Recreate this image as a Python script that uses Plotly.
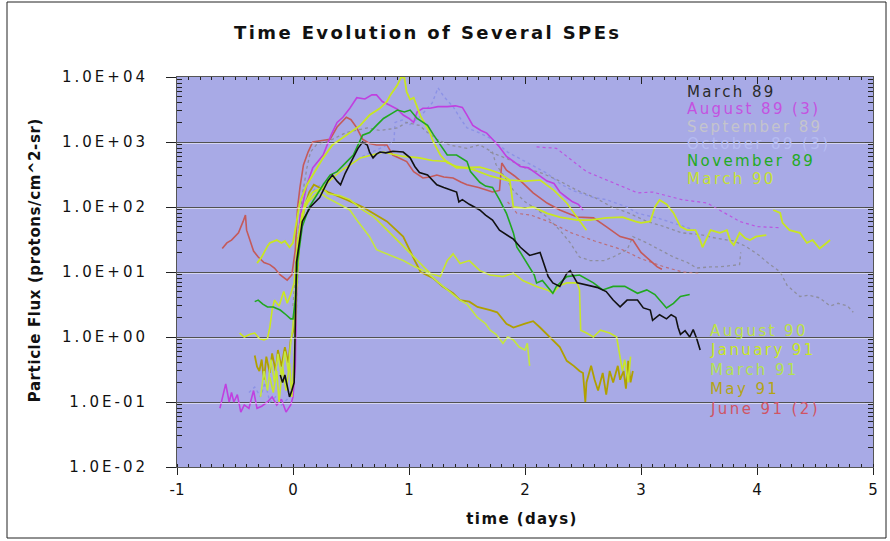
import plotly.graph_objects as go

# ---------------- data (time in days, flux in protons/cm^2-sr) ----------------
march89 = [(-0.11,0.26),(-0.09,0.2),(-0.07,0.26),(-0.05,0.17),(-0.03,0.12),(-0.01,0.15),(0.01,0.2),
           (0.03,14),(0.08,60),(0.15,100),(0.23,140),(0.3,250),(0.34,310),(0.38,250),(0.41,220),(0.45,330),
           (0.5,500),(0.56,800),(0.6,1000),(0.64,900),(0.66,700),(0.69,570),(0.72,650),(0.75,700),(0.8,680),
           (0.86,720),(0.95,700),(1.01,570),(1.05,420),(1.09,340),(1.16,310),(1.24,220),(1.3,200),(1.35,185),
           (1.41,170),(1.43,120),(1.46,130),(1.52,110),(1.61,90),(1.66,75),(1.72,63),(1.78,44),(1.84,38),
           (1.9,32),(1.96,24),(2.04,18),(2.13,20),(2.17,12),(2.2,8.5),(2.24,6.8),(2.3,6.0),(2.36,9.5),
           (2.39,10.5),(2.45,6.8),(2.53,6.3),(2.62,5.8),(2.7,5.0),(2.76,3.7),(2.82,2.9),(2.88,3.7),(2.97,3.7),
           (3.02,2.8),(3.08,2.6),(3.1,1.8),(3.16,2.2),(3.22,1.9),(3.26,2.2),(3.3,2.0),(3.32,1.4),(3.34,1.1),
           (3.38,1.25),(3.42,1.0),(3.45,1.3),(3.48,0.95),(3.51,0.63)]

august89 = [(-0.63,0.08),(-0.58,0.19),(-0.55,0.1),(-0.53,0.14),(-0.51,0.1),(-0.48,0.13),(-0.45,0.07),
            (-0.42,0.09),(-0.38,0.08),(-0.34,0.15),(-0.31,0.08),(-0.27,0.086),(-0.22,0.1),(-0.18,0.12),
            (-0.14,0.09),(-0.1,0.11),(-0.06,0.07),(-0.02,0.09),(0.0,0.12),(0.02,0.36),(0.03,3.7),(0.06,70),
            (0.12,220),(0.17,400),(0.26,630),(0.33,1300),(0.38,2000),(0.43,2400),(0.49,3300),(0.55,4800),
            (0.62,4600),(0.68,5300),(0.72,5300),(0.77,4200),(0.83,3700),(0.9,3200),(0.95,2600),(1.0,2300),
            (1.04,2000),(1.07,2900),(1.12,3300),(1.18,3300),(1.25,3500),(1.33,3500),(1.4,3600),(1.46,3400),
            (1.5,2600),(1.55,1800),(1.62,1500),(1.67,1370),(1.72,1100),(1.78,840),(1.84,600),(1.9,500),
            (1.96,420),(2.03,400),(2.1,330),(2.19,250),(2.25,230),(2.3,170),(2.36,140),(2.41,120),
            (2.46,110),(2.5,90)]
august89_late = [(2.1,840),(2.27,800),(2.53,350),(2.8,220),(2.97,165),(3.1,170),(3.35,130),(3.57,115),
                 (3.85,60),(4.0,50),(4.2,48)]

september89 = [(0.0,3),(0.04,30),(0.08,150),(0.12,400),(0.15,700),(0.2,900),(0.28,1000),(0.34,1100),
               (0.46,1400),(0.55,1500),(0.64,1650),(0.75,1500),(0.9,1650),(0.98,2000),(1.09,1800),
               (1.16,1400),(1.24,1100),(1.35,900),(1.5,800),(1.61,900),(1.72,700),(1.75,450),(1.82,300),
               (1.9,180),(2.0,120),(2.07,100),(2.19,70),(2.3,44),(2.39,28),(2.47,17),(2.56,15),(2.68,15),
               (2.76,17),(2.88,22),(2.93,35),(3.05,28),(3.16,22),(3.28,17),(3.4,14),(3.48,11.5),(3.6,12),
               (3.68,12),(3.85,13),(3.86,20)]
september89_late = [(1.7,700),(1.85,550),(2.0,400),(2.15,330),(2.3,250),(2.45,180),(2.6,140),(2.75,100),
                    (2.9,80),(3.05,60),(3.2,50),(3.35,40),(3.5,38),(3.65,33),(3.8,30),(3.9,25),(4.02,18),
                    (4.09,14),(4.2,10),(4.26,6.2),(4.37,4.2),(4.45,4.4),(4.54,4.0),(4.63,3.0),(4.7,3.3),
                    (4.78,3.0),(4.83,2.4)]

october89 = [(-0.38,0.14),(-0.33,0.17),(-0.28,0.12),(-0.24,0.2),(-0.2,0.1),(-0.15,0.12),(-0.1,0.09),
             (-0.05,0.11),(0.0,0.15),(0.03,3),(0.06,40),(0.1,120),(0.2,200),(0.3,250),(0.45,400),(0.6,600),
             (0.75,800),(0.87,1000),(0.88,2000),(0.95,2200),(1.0,1800),(1.1,2500),(1.2,4000),(1.25,6800),
             (1.3,5000),(1.38,3500),(1.45,2200),(1.5,1650),(1.6,1400),(1.72,1100),(1.85,700),(2.0,500),
             (2.1,400),(2.19,330),(2.3,230),(2.41,180),(2.59,140),(2.7,130),(2.88,100),(2.97,80),
             (3.14,68),(3.3,55),(3.45,45)]

november89 = [(-0.33,3.5),(-0.3,3.7),(-0.26,3.2),(-0.22,2.9),(-0.17,2.9),(-0.11,2.6),(-0.06,2.2),
              (-0.02,1.9),(0.0,1.9),(0.02,3.7),(0.04,15),(0.08,50),(0.14,100),(0.2,150),(0.26,220),
              (0.32,310),(0.38,350),(0.46,490),(0.52,630),(0.6,1270),(0.66,1400),(0.72,1800),(0.78,2300),
              (0.86,2800),(0.9,3100),(0.96,2900),(1.01,3100),(1.07,2300),(1.16,1800),(1.21,1300),
              (1.27,900),(1.33,630),(1.41,630),(1.5,500),(1.53,350),(1.61,240),(1.66,210),(1.72,200),
              (1.78,130),(1.84,80),(1.9,40),(1.93,24),(1.96,20),(2.04,12),(2.08,9),(2.1,6.8),(2.15,7.4),
              (2.24,4.7),(2.27,6.0),(2.36,8.5),(2.47,9.0),(2.59,6.8),(2.67,5.3),(2.76,6.0),(2.86,6.0),
              (2.97,4.7),(3.05,5.3),(3.12,4.5),(3.19,3.3),(3.22,2.8),(3.28,3.3),(3.34,4.2),(3.42,4.5)]

march90 = [(-0.31,13.7),(-0.27,17),(-0.22,25),(-0.2,28),(-0.14,31),(-0.1,28),(-0.07,30),(-0.03,24),
           (0.0,28),(0.03,60),(0.06,120),(0.12,220),(0.17,310),(0.26,570),(0.34,900),(0.46,1270),
           (0.58,1800),(0.66,2600),(0.75,3300),(0.81,4200),(0.84,5300),(0.9,7500),(0.93,9800),(0.96,9800),
           (0.98,5900),(1.01,4500),(1.04,4800),(1.1,2500),(1.18,1400),(1.21,1000),(1.27,630),(1.33,480),
           (1.41,420),(1.55,380),(1.7,300),(1.87,250),(1.9,100),(2.0,95),(2.07,100),(2.19,80),(2.3,70),
           (2.45,63),(2.56,63),(2.7,68),(2.84,70),(2.95,60),(3.0,57),(3.08,60),(3.12,100),(3.16,128),
           (3.22,110),(3.28,81),(3.34,50),(3.4,44),(3.47,44),(3.51,31),(3.53,24),(3.6,44),(3.68,40),
           (3.74,44),(3.77,30),(3.8,26),(3.85,40),(3.9,33),(3.94,31),(3.99,35),(4.08,37),(4.11,None),
           (4.14,90),(4.2,81),(4.22,57),(4.28,44),(4.37,40),(4.43,28),(4.48,31),(4.54,23),(4.6,28),(4.63,31)]

august90 = [(-0.2,0.24),(-0.17,0.14),(-0.14,0.3),(-0.12,0.1),(-0.09,0.35),(-0.06,0.15),(-0.03,0.4),
            (-0.01,0.12),(0.01,0.5),(0.03,5),(0.06,40),(0.1,100),(0.17,170),(0.25,200),(0.3,160),(0.4,150),
            (0.49,130),(0.6,90),(0.7,70),(0.81,45),(0.95,25),(1.09,14),(1.18,9.6),(1.27,8.5),(1.33,15),
            (1.38,19),(1.44,13.5),(1.52,15),(1.61,10.5),(1.7,9.0),(1.81,8.5),(1.9,9.6),(1.98,7.4),(2.1,6.0),
            (2.19,5.3),(2.24,4.7),(2.3,6.2),(2.36,6.8),(2.45,6.8),(2.47,5.3),(2.48,1.27),(2.53,1.15),
            (2.59,1.0),(2.65,1.27),(2.73,1.15),(2.79,1.0),(2.82,0.5),(2.84,0.3),(2.86,0.45),(2.89,0.2),
            (2.91,0.5)]

january91 = [(-0.46,1.15),(-0.42,1.0),(-0.37,1.1),(-0.33,1.15),(-0.29,0.95),(-0.25,0.9),(-0.22,0.95),
             (-0.2,1.4),(-0.18,2.6),(-0.16,3.7),(-0.12,3.0),(-0.08,5.0),(-0.05,3.3),(-0.02,4.5),(0.01,6.8),
             (0.04,30),(0.08,80),(0.13,120),(0.2,160),(0.28,220),(0.36,300),(0.43,380),(0.49,440),
             (0.58,570),(0.68,630),(0.78,700),(0.86,650),(0.95,600),(1.05,580),(1.09,570),(1.2,520),
             (1.33,500),(1.41,400),(1.5,400),(1.61,410),(1.7,370),(1.78,330),(1.87,260),(2.0,250),
             (2.13,260),(2.25,180),(2.36,115),(2.45,70),(2.53,44)]

march91 = [(-0.28,0.12),(-0.25,0.3),(-0.22,0.15),(-0.19,0.45),(-0.16,0.2),(-0.13,0.55),(-0.1,0.25),
           (-0.07,0.6),(-0.04,0.3),(-0.02,0.8),(0.0,1.5),(0.03,10),(0.06,50),(0.1,110),(0.15,160),
           (0.2,180),(0.29,140),(0.4,110),(0.49,90),(0.55,63),(0.66,35),(0.72,22),(0.81,19),(0.95,15),
           (1.05,12),(1.15,10),(1.25,7.0),(1.33,5.3),(1.44,3.7),(1.5,3.2),(1.59,2.0),(1.66,1.6),(1.7,1.27),
           (1.75,1.1),(1.81,0.8),(1.85,1.0),(1.9,0.9),(1.95,0.7),(2.0,0.63),(2.02,0.8),(2.04,0.36)]

may91 = [(-0.33,0.52),(-0.31,0.35),(-0.29,0.3),(-0.27,0.45),(-0.25,0.22),(-0.23,0.5),(-0.2,0.28),
         (-0.18,0.56),(-0.15,0.3),(-0.13,0.63),(-0.1,0.35),(-0.07,0.7),(-0.04,0.4),(-0.02,0.9),(0.0,1.2),
         (0.03,8),(0.06,40),(0.1,100),(0.14,170),(0.18,220),(0.3,170),(0.46,130),(0.6,100),(0.81,60),
         (0.95,35),(1.05,15),(1.1,10),(1.21,8.0),(1.29,6.0),(1.38,4.7),(1.44,3.7),(1.52,3.5),(1.59,2.9),
         (1.7,2.6),(1.76,2.4),(1.84,1.6),(1.9,1.4),(2.0,1.6),(2.07,1.75),(2.13,1.4),(2.19,1.1),(2.24,0.9),
         (2.3,0.7),(2.36,0.43),(2.42,0.36),(2.47,0.3),(2.5,0.28),(2.52,0.1),(2.53,0.2),(2.57,0.36),
         (2.6,0.22),(2.63,0.15),(2.67,0.28),(2.7,0.13),(2.73,0.3),(2.76,0.2),(2.8,0.36),(2.82,0.22),
         (2.85,0.3),(2.87,0.16),(2.89,0.43),(2.91,0.2),(2.93,0.3)]

june91 = [(-0.61,23),(-0.57,28),(-0.53,31),(-0.5,35),(-0.47,40),(-0.43,60),(-0.41,75),(-0.4,44),(-0.37,30),
          (-0.34,21),(-0.3,17),(-0.25,14),(-0.2,13),(-0.16,11.5),(-0.11,9),(-0.05,7.5),(-0.01,9),(0.02,22),
          (0.04,100),(0.06,200),(0.09,445),(0.13,700),(0.17,1000),(0.25,1050),(0.32,1100),(0.38,1700),
          (0.46,2400),(0.5,2200),(0.55,1650),(0.6,1100),(0.66,950),(0.72,900),(0.81,900),(0.86,630),
          (0.92,560),(0.98,500),(1.04,350),(1.12,280),(1.18,290),(1.24,310),(1.3,290),(1.38,280),
          (1.45,240),(1.5,220),(1.6,200),(1.72,170),(1.78,180),(1.8,475),(1.84,370),(1.91,300),(1.98,235),
          (2.07,165),(2.19,115),(2.3,90),(2.45,70),(2.59,68),(2.7,50),(2.82,35),(2.93,31),(3.0,20),
          (3.08,15),(3.14,12),(3.18,11)]
june91_late = [(1.85,120),(1.93,80),(2.05,75),(2.2,60),(2.4,40),(2.6,30),(2.84,22),(3.0,16),(3.2,12),
               (3.36,10),(3.5,9.5)]

x_ticks = [-1, 0, 1, 2, 3, 4, 5]
x_ticktext = ["-1", "0", "1", "2", "3", "4", "5"]
y_tickvals = [1e-2, 1e-1, 1e0, 1e1, 1e2, 1e3, 1e4]
y_ticktext = ["1.0E-02", "1.0E-01", "1.0E+00", "1.0E+01", "1.0E+02", "1.0E+03", "1.0E+04"]
y_minor = [k * 10.0 ** e for e in range(-2, 4) for k in range(2, 10)]

legend_top = [("March 89", "#2a2a2a"), ("August 89 (3)", "#C452E0"), ("September 89", "#C4C4CC"),
              ("October 89 (3)", "#B6BCF2"), ("November 89", "#22AA22"), ("March 90", "#C6E232")]
legend_bottom = [("August 90", "#BEE244"), ("January 91", "#C8E820"), ("March 91", "#B4E250"),
                 ("May 91", "#B4A414"), ("June 91 (2)", "#D05464")]

# ---------------- figure ----------------
L, R, T, B = 177, 873, 77, 467


def px(x):
    return (x - L) / (R - L)


def py(y):
    return (B - y) / (B - T)


fig = go.Figure()


def add(pairs, color, width=1.6, dash="solid", opacity=1.0):
    fig.add_trace(go.Scatter(
        x=[p[0] for p in pairs], y=[p[1] for p in pairs], mode="lines",
        line=dict(color=color, width=width, dash=dash), opacity=opacity,
        showlegend=False, hoverinfo="skip", connectgaps=False))


add(october89, "#8C92E6", 1.4, "dot")
add(september89, "#8E8E9E", 1.3, "dot")
add(september89_late, "#8E8E9E", 1.3, "dot")
add(june91_late, "#C06060", 1.2, "dot", 0.8)
add(june91, "#C45A5A", 1.6)
add(august89_late, "#C040E0", 1.2, "dot", 0.8)
add(august89, "#C040E0", 1.6)
add(may91, "#B0A000", 1.8)
add(march91, "#C4E640", 1.6)
add(august90, "#C8E62A", 1.6)
add(january91, "#CCE81E", 1.6)
add(march90, "#C8E622", 1.8)
add(november89, "#20A820", 1.6)
add(march89, "#111111", 1.6)

# overlay axes for inside ticks on the top and right edges
fig.add_trace(go.Scatter(x=[], y=[], xaxis="x2", yaxis="y2", showlegend=False, hoverinfo="skip"))

axis_font = dict(family="DejaVu Sans", size=15, color="#111")
fig.update_layout(
    width=890, height=541,
    margin=dict(l=L, r=890 - R, t=T, b=541 - B),
    paper_bgcolor="white", plot_bgcolor="#A8AAE6",
    font=dict(family="DejaVu Sans", size=15, color="#111"),
    showlegend=False,
    xaxis=dict(range=[-1, 5], tickvals=x_ticks, ticktext=x_ticktext, ticks="outside", ticklen=7,
               tickcolor="#222", showline=True, linecolor="#555", linewidth=1, mirror=True,
               showgrid=False, zeroline=False, tickfont=axis_font, ticklabelstandoff=2,
               minor=dict(ticks="inside", dtick=0.1, ticklen=3, tickcolor="#222")),
    yaxis=dict(type="log", range=[-2, 4], tickvals=y_tickvals, ticktext=y_ticktext,
               ticks="outside", ticklen=10, tickcolor="#222", showgrid=True, gridcolor="#2a2a2a",
               gridwidth=1, showline=True, linecolor="#555", linewidth=1, mirror=True,
               zeroline=False, tickfont=axis_font, ticklabelstandoff=15,
               minor=dict(ticks="inside", tickvals=y_minor, ticklen=5, tickcolor="#222", showgrid=False)),
    xaxis2=dict(overlaying="x", side="top", range=[-1, 5], tickvals=x_ticks, ticks="inside",
                ticklen=7, tickcolor="#222", showticklabels=False, showgrid=False, zeroline=False,
                showline=False, minor=dict(ticks="inside", dtick=0.1, ticklen=3, tickcolor="#222")),
    yaxis2=dict(overlaying="y", side="right", type="log", range=[-2, 4], tickvals=y_tickvals,
                ticks="inside", ticklen=8, tickcolor="#222", showticklabels=False, showgrid=False,
                zeroline=False, showline=False,
                minor=dict(ticks="inside", tickvals=y_minor, ticklen=5, tickcolor="#222")),
)

ann = []
ann.append(dict(text="<b>Time Evolution of Several SPEs</b>", x=px(427), y=py(33), xref="paper",
                yref="paper", showarrow=False, font=dict(size=18, color="#111"), xanchor="center",
                yanchor="middle"))
ann.append(dict(text="<b>time (days)</b>", x=px(522), y=py(519), xref="paper", yref="paper",
                showarrow=False, font=dict(size=15, color="#111"), xanchor="center", yanchor="middle"))
ann.append(dict(text="<b>Particle Flux (protons/cm^2-sr)</b>", x=px(35), y=py(260), xref="paper",
                yref="paper", showarrow=False, textangle=-90, font=dict(size=15, color="#111"),
                xanchor="center", yanchor="middle"))
for i, (name, col) in enumerate(legend_top):
    ann.append(dict(text=name, x=px(685), y=py(92 + 17.3 * i), xref="paper", yref="paper",
                    showarrow=False, xanchor="left", yanchor="middle", align="left",
                    font=dict(size=15, color=col, family="DejaVu Sans")))
for i, (name, col) in enumerate(legend_bottom):
    ann.append(dict(text=name, x=px(708), y=py(331 + 19.4 * i), xref="paper", yref="paper",
                    showarrow=False, xanchor="left", yanchor="middle", align="left",
                    font=dict(size=15, color=col, family="DejaVu Sans")))
fig.update_layout(annotations=ann)

# thin white highlight just under each decade gridline
for v in y_tickvals[1:-1]:
    fig.add_shape(type="line", xref="paper", yref="y", x0=0, x1=1, y0=v / 1.045, y1=v / 1.045,
                  line=dict(color="rgba(255,255,255,0.7)", width=1), layer="above")

fig.add_shape(type="rect", xref="paper", yref="paper", x0=px(7), x1=px(886), y0=py(538), y1=py(2),
              line=dict(color="#222", width=1), fillcolor="rgba(0,0,0,0)", layer="below")

# the reference's lettering is drawn wide; widen ours with letter spacing
post = """
document.body.style.margin='0px';
var gd = document.getElementById('{plot_id}');
function widen() {
  var anns = gd.querySelectorAll('g.annotation text.annotation-text');
  var sp = ['2.4px', '1.4px', '0.6px'];
  anns.forEach(function (e, i) { e.style.letterSpacing = (i < 3) ? sp[i] : '2.4px'; });
  gd.querySelectorAll('g.ytick text').forEach(function (e) { e.style.letterSpacing = '3px'; });
}
widen();
gd.on('plotly_afterplot', widen);
"""
fig.write_html("out.html", post_script=post, config={"displayModeBar": False})
